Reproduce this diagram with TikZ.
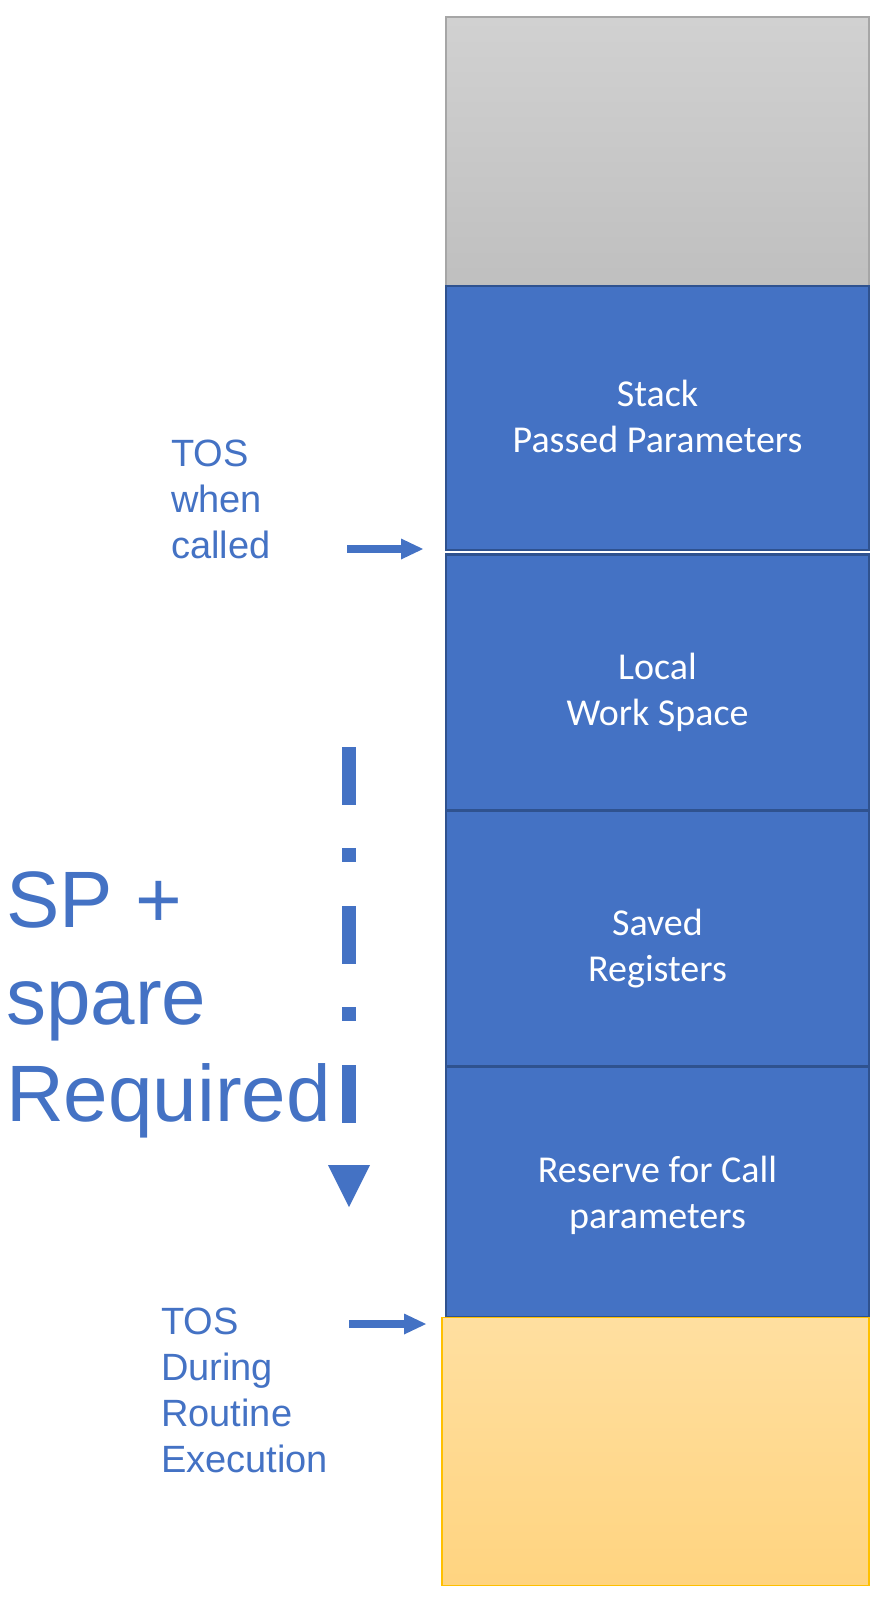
\documentclass[tikz,border=0pt]{standalone}
\usepackage{fontspec}
\setmainfont{Carlito}
\newfontfamily\arialfont{Liberation Sans}
\usetikzlibrary{arrows.meta,positioning,calc}

\definecolor{officeblue}{HTML}{4472C4}
\definecolor{blueedge}{HTML}{2F528F}
\definecolor{greyedge}{HTML}{A6A6A6}
\definecolor{freeedge}{HTML}{FFC000}
\definecolor{freetop}{HTML}{FFDFA0}
\definecolor{freebottom}{HTML}{FFD480}

\begin{document}
\begin{tikzpicture}[x=1pt,y=-1pt,
  frame/.style={rectangle, minimum width=423pt, inner sep=0pt, outer sep=0pt, align=center},
  stackbox/.style={frame, fill=officeblue, draw=blueedge, line width=2.5pt},
  boxtext/.style={text=white, align=center, inner sep=0pt, font=\fontsize{38}{46}\selectfont},
  greybox/.style={frame, top color=black!18, bottom color=black!25, draw=greyedge, line width=1.5pt},
  freebox/.style={frame, minimum width=427pt, top color=freetop, bottom color=freebottom,
    draw=freeedge, line width=1.5pt},
  toslabel/.style={text=officeblue, align=left, inner sep=0pt, font=\arialfont\fontsize{38}{46}\selectfont},
  splabel/.style={text=officeblue, align=left, inner sep=0pt, font=\arialfont\fontsize{80}{97}\selectfont},
  tosarrow/.style={draw=officeblue, line width=8pt, -{Triangle[length=22pt,width=21pt,line width=0pt]}},
  sparearrow/.style={draw=officeblue, line width=14pt, dash pattern=on 58pt off 43pt on 14pt off 44pt,
    -{Triangle[length=42pt,width=42pt,line width=0pt]}}]
\useasboundingbox (0,0) rectangle (877,1600);

% the stack, top to bottom
\node[greybox, minimum height=269pt] (spare) at (657.5,151.5) {};
\node[stackbox, minimum height=264pt, below=0pt of spare,
  label={[boxtext, yshift=2pt]center:{Stack\\Passed Parameters}}] (params) {};
\node[stackbox, minimum height=256pt, below=4.5pt of params,
  label={[boxtext, yshift=-10pt]center:{Local\\Work Space}}] (local) {};
\node[stackbox, minimum height=256pt, below=0pt of local,
  label={[boxtext, yshift=-10pt]center:{Saved\\Registers}}] (saved) {};
\node[stackbox, minimum height=251pt, below=0pt of saved,
  label={[boxtext, yshift=-3pt]center:{Reserve for Call\\parameters}}] (reserve) {};
\node[freebox, minimum height=268pt, below=0pt of reserve, xshift=-2pt] (free) {};

% labels on the left
\node[toslabel, anchor=north west] (called) at (171,440) {TOS\\when\\called};
\node[toslabel, anchor=north west] (during) at (161,1308) {TOS\\During\\Routine\\Execution};
\node[splabel, anchor=north west] (sp) at (6,871) {SP +\\spare\\Required};

% arrows
\coordinate (calledtail) at (347,549);
\coordinate (duringtail) at (349,1324);
\draw[tosarrow] (calledtail) -- ($(calledtail -| params.west) + (-23,0)$);
\draw[tosarrow] (duringtail) -- ($(duringtail -| reserve.west) + (-20,0)$);

\coordinate (sptop) at (349,747);
\coordinate (spbottom) at (349,1207);
\draw[sparearrow] (sptop) -- (spbottom);
\end{tikzpicture}
\end{document}
